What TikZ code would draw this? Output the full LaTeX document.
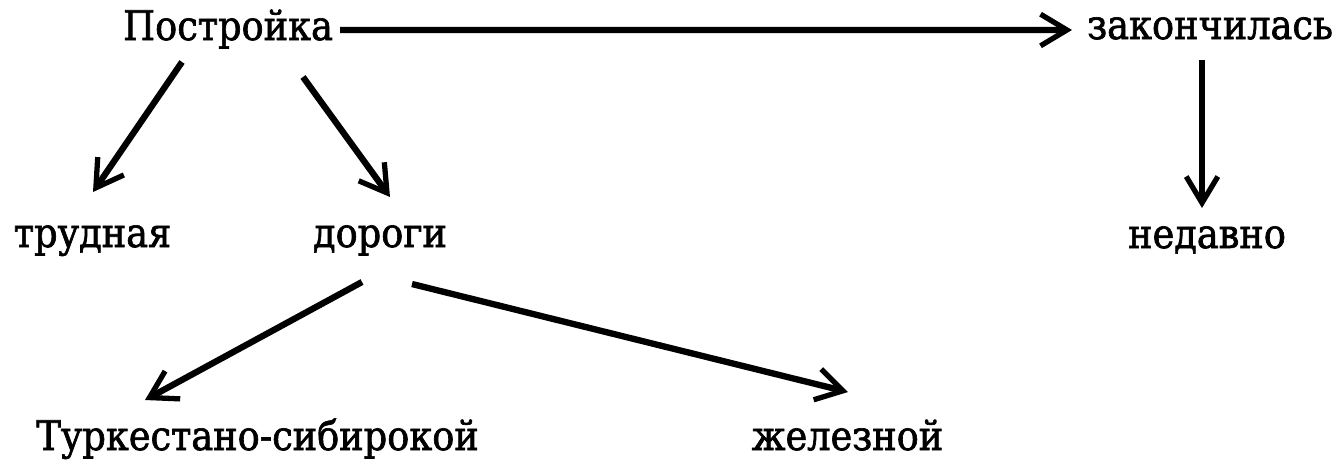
\documentclass[tikz,border=0pt]{standalone}
\usepackage{fontspec}
\setmainfont[FakeBold=1.6]{DejaVu Serif Condensed}
\usetikzlibrary{arrows.meta,calc}
\begin{document}
\begin{tikzpicture}[
  word/.style={anchor=base, inner sep=0pt, font=\fontsize{11.6}{14}\selectfont},
  arr/.style={line width=1.8pt, -{Straight Barb[length=7.5pt,width=9pt,line width=1.5pt]}}
]
\useasboundingbox[fill=white] (0,0) rectangle (13.4,4.72);
\node[word] (post) at (2.28,4.32) {Постройка};
\node[word] (zak) at (12.10,4.33) {закончилась};
\node[word] (trud) at (0.925,2.25) {трудная};
\node[word] (dor) at (3.80,2.25) {дороги};
\node[word] (ned) at (12.07,2.24) {недавно};
\node[word] (turk) at (2.575,0.22) {Туркестано-сибирокой};
\node[word] (zhel) at (8.475,0.22) {железной};
\draw[arr] ($(post.base)+(1.12,0.10)$) -- ($(zak.base)+(-1.38,0.09)$);
\draw[arr] ($(post.base)+(-0.46,-0.22)$) -- ($(trud.base)+(0.005,0.55)$);
\draw[arr] ($(post.base)+(0.75,-0.37)$) -- ($(dor.base)+(0.10,0.50)$);
\draw[arr] ($(zak.base)+(-0.08,-0.21)$) -- ($(ned.base)+(-0.05,0.40)$);
\draw[arr] ($(dor.base)+(-0.18,-0.35)$) -- ($(turk.base)+(-1.125,0.50)$);
\draw[arr] ($(dor.base)+(0.32,-0.37)$) -- ($(zhel.base)+(0.005,0.58)$);
\end{tikzpicture}
\end{document}
